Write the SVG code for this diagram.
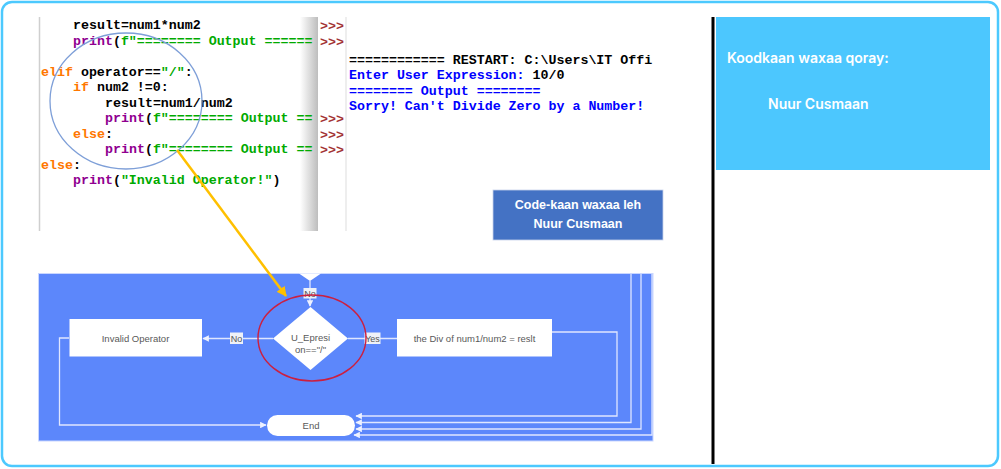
<svg xmlns="http://www.w3.org/2000/svg" width="1001" height="469" viewBox="0 0 1001 469">
<defs>
<style>
.code{font-family:"Liberation Mono","Courier New",monospace;font-weight:bold;font-size:13.3px;white-space:pre}
.k{fill:#ff7700}.b{fill:#900090}.s{fill:#00aa00}.d{fill:#000}.p{fill:#a33333}.o{fill:#0000ff}
.fc{font-family:"Liberation Sans",Arial,sans-serif;font-size:9.5px;fill:#595959;text-anchor:middle}
.lbl{font-family:"Liberation Sans",Arial,sans-serif;font-size:9px;fill:#555;text-anchor:middle}
.ln{fill:none;stroke:#dfe6ff;stroke-width:1.3}
.lb{fill:#eef1f8}
</style>
<linearGradient id="sb" x1="0" y1="0" x2="1" y2="0">
<stop offset="0" stop-color="#ffffff"/>
<stop offset="1" stop-color="#bdbdbd"/>
</linearGradient>
<clipPath id="cc"><rect x="39" y="17" width="279" height="215"/></clipPath>
<clipPath id="sc"><rect x="346" y="17" width="308" height="215"/></clipPath>
<marker id="ah" viewBox="0 0 10 10" refX="9" refY="5" markerWidth="5" markerHeight="5" orient="auto">
<path d="M0,0 L10,5 L0,10 z" fill="#eef2ff"/>
</marker>
<marker id="oa" viewBox="0 0 10 10" refX="9" refY="5" markerWidth="4" markerHeight="4" orient="auto">
<path d="M0,0 L10,5 L0,10 z" fill="#ffc000"/>
</marker>
</defs>
<rect x="0" y="0" width="1001" height="469" fill="#ffffff"/>
<rect x="2" y="2" width="996" height="464" rx="10" fill="none" stroke="#4cc9fe" stroke-width="2.5"/>

<g id="code-panel">
<rect x="39" y="17" width="279" height="214" fill="#ffffff"/>
<rect x="300" y="17" width="18" height="214" fill="url(#sb)"/>
<line x1="39.5" y1="17" x2="39.5" y2="231" stroke="#cfcfcf" stroke-width="1.5"/>
<line x1="346" y1="17" x2="346" y2="231" stroke="#dddddd" stroke-width="1"/>
<g clip-path="url(#cc)" class="code">
<text x="73" y="29" class="d">result=num1*num2</text>
<text x="73" y="44.5"><tspan class="b">print</tspan><tspan class="d">(</tspan><tspan class="s">f"======== Output ======</tspan></text>
<text x="41" y="75.5"><tspan class="k">elif</tspan><tspan class="d"> operator==</tspan><tspan class="s">"/"</tspan><tspan class="d">:</tspan></text>
<text x="73" y="91"><tspan class="k">if</tspan><tspan class="d"> num2 !=0:</tspan></text>
<text x="105" y="106.5" class="d">result=num1/num2</text>
<text x="105" y="122"><tspan class="b">print</tspan><tspan class="d">(</tspan><tspan class="s">f"======== Output ==</tspan></text>
<text x="73" y="137.5"><tspan class="k">else</tspan><tspan class="d">:</tspan></text>
<text x="105" y="153"><tspan class="b">print</tspan><tspan class="d">(</tspan><tspan class="s">f"======== Output ==</tspan></text>
<text x="41" y="168.5"><tspan class="k">else</tspan><tspan class="d">:</tspan></text>
<text x="73" y="184"><tspan class="b">print</tspan><tspan class="d">(</tspan><tspan class="s">"Invalid Operator!"</tspan><tspan class="d">)</tspan></text>
</g>
<g class="code">
<text x="320" y="30" class="p">&gt;&gt;&gt;</text>
<text x="320" y="45.5" class="p">&gt;&gt;&gt;</text>
<text x="320" y="123" class="p">&gt;&gt;&gt;</text>
<text x="320" y="138.5" class="p">&gt;&gt;&gt;</text>
<text x="320" y="154" class="p">&gt;&gt;&gt;</text>
</g>
<g clip-path="url(#sc)" class="code">
<text x="349" y="63.5" class="d">============ RESTART: C:\Users\IT Offi</text>
<text x="349" y="79"><tspan class="o">Enter User Expression: </tspan><tspan class="d">10/0</tspan></text>
<text x="349" y="94.5" class="o">======== Output ========</text>
<text x="349" y="110" class="o">Sorry! Can't Divide Zero by a Number!</text>
</g>
<ellipse cx="126" cy="101" rx="76" ry="68" fill="none" stroke="#7e9fd8" stroke-width="1.3"/>
</g>

<g id="author-box">
<rect x="493" y="190" width="170" height="50" fill="#4472c4" stroke="#c9d3ea" stroke-width="0.8"/>
<text x="578" y="209" text-anchor="middle" font-family="Liberation Sans,Arial,sans-serif" font-weight="bold" font-size="12.5" fill="#ffffff">Code-kaan waxaa leh</text>
<text x="578" y="228" text-anchor="middle" font-family="Liberation Sans,Arial,sans-serif" font-weight="bold" font-size="12.5" fill="#ffffff">Nuur Cusmaan</text>
</g>

<g id="right-panel">
<line x1="713" y1="17" x2="713" y2="464" stroke="#000000" stroke-width="3"/>
<rect x="716" y="17" width="274" height="153" fill="#4cc7fe"/>
<text x="727" y="63" font-family="Inter,Roboto,sans-serif" font-weight="600" font-size="14" fill="#ffffff">Koodkaan waxaa qoray:</text>
<text x="768" y="109" font-family="Inter,Roboto,sans-serif" font-weight="600" font-size="14" fill="#ffffff">Nuur Cusmaan</text>
</g>

<g id="flowchart-bg">
<rect x="38.5" y="273.5" width="614.5" height="167.5" fill="#5c87fb" stroke="#c9d6ff" stroke-width="1"/>
<polygon points="299,273.5 321,273.5 310,281" fill="#ffffff"/>
</g>

<g id="connectors">
<line x1="310" y1="281" x2="310" y2="289" class="ln"/>
<line x1="310" y1="298" x2="310" y2="306" class="ln" marker-end="url(#ah)"/>
<line x1="273" y1="338.5" x2="203" y2="338.5" class="ln" marker-end="url(#ah)"/>
<line x1="348" y1="338.5" x2="397" y2="338.5" class="ln"/>
<polyline points="552,332 617,332 617,416 356,416" class="ln" marker-end="url(#ah)"/>
<polyline points="631,274 631,422.5 356,422.5" class="ln" marker-end="url(#ah)"/>
<polyline points="641,274 641,429 356,429" class="ln" marker-end="url(#ah)"/>
<polyline points="652,274 652,435 354,435" class="ln" marker-end="url(#ah)"/>
<polyline points="69,338 59.5,338 59.5,425 266,425" class="ln" marker-end="url(#ah)"/>
<rect x="303.5" y="288" width="13" height="10.5" class="lb"/>
<text x="310" y="296.5" class="lbl">No</text>
<rect x="230" y="332.5" width="13" height="11.5" class="lb"/>
<text x="236.5" y="341.5" class="lbl">No</text>
<rect x="364.5" y="332.5" width="16" height="11.5" class="lb"/>
<text x="372.5" y="341.5" class="lbl">Yes</text>
</g>

<g id="decision">
<polygon points="310.5,307 348,338.5 310.5,370 273,338.5" fill="#ffffff"/>
<text x="310.5" y="341" class="fc" font-size="10.5">U_Epresi</text>
<text x="310.5" y="353" class="fc" font-size="8.5">on=="/"</text>
</g>

<g id="invalid-operator">
<rect x="69.5" y="319" width="132.5" height="37.5" fill="#ffffff"/>
<text x="135.5" y="341.5" class="fc">Invalid Operator</text>
</g>

<g id="division-result">
<rect x="397" y="319" width="155" height="37.5" fill="#ffffff"/>
<text x="474.5" y="341.5" class="fc">the Div of num1/num2 = reslt</text>
</g>

<g id="end">
<rect x="267" y="415" width="88" height="21" rx="10.5" fill="#ffffff"/>
<text x="311" y="428.5" class="fc">End</text>
</g>

<g id="highlight">
<ellipse cx="312" cy="338" rx="54" ry="43" fill="none" stroke="#cc1f3f" stroke-width="1.4"/>
<line x1="177" y1="150" x2="286" y2="296" stroke="#ffc000" stroke-width="2.5" marker-end="url(#oa)"/>
</g>
</svg>
